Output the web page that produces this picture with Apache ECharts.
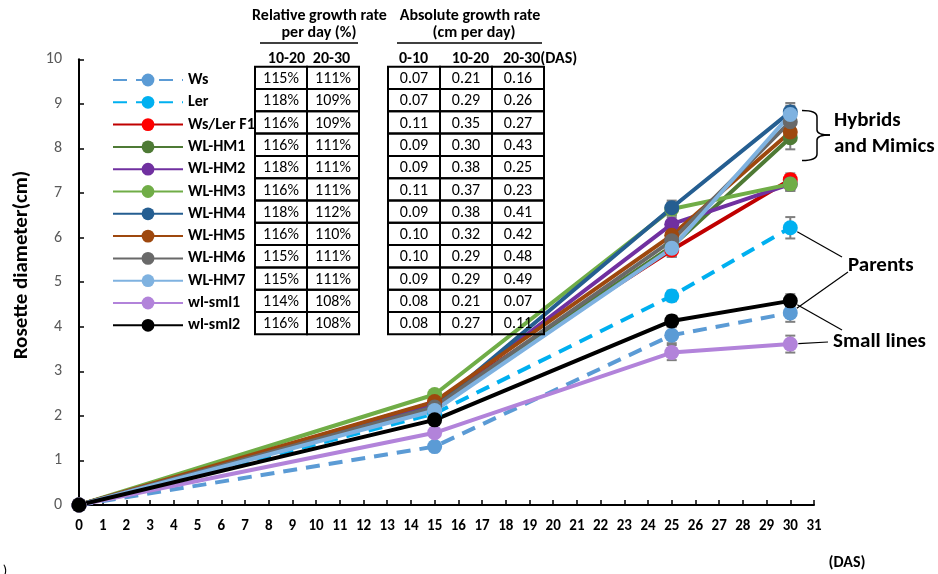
<!DOCTYPE html>
<html><head><meta charset="utf-8">
<script src="https://cdn.jsdelivr.net/npm/echarts@6/dist/echarts.min.js"></script>
<style>html,body{margin:0;padding:0;background:#fff}#c{width:938px;height:574px}</style>
</head><body><div id="c"></div>
<script>
// ---- data ----
const days = [0, 15, 25, 30];
const seriesNames = ['Ws','Ler','Ws/Ler F1','WL-HM1','WL-HM2','WL-HM3','WL-HM4','WL-HM5','WL-HM6','WL-HM7','wl-sml1','wl-sml2'];
const ws   = [0, 1.31, 3.81, 4.31];
const ler  = [0, 2.05, 4.69, 6.22];
const f1   = [0, 2.30, 5.72, 7.30];
const hm1  = [0, 2.20, 5.80, 8.24];
const hm2  = [0, 2.25, 6.30, 7.20];
const hm3  = [0, 2.48, 6.64, 7.20];
const hm4  = [0, 2.20, 6.67, 8.82];
const hm5  = [0, 2.32, 6.05, 8.37];
const hm6  = [0, 2.20, 5.93, 8.60];
const hm7  = [0, 2.12, 5.76, 8.76];
const sml1 = [0, 1.62, 3.42, 3.61];
const sml2 = [0, 1.91, 4.13, 4.58];
// error (+/-) at each day
const errWs   = [0, 0, 0.18, 0.20];
const errLer  = [0, 0, 0.12, 0.24];
const errF1   = [0, 0, 0.15, 0.14];
const errHm1  = [0, 0, 0.15, 0.26];
const errHm2  = [0, 0, 0.15, 0.15];
const errHm3  = [0, 0, 0.15, 0.15];
const errHm4  = [0, 0, 0.16, 0.20];
const errHm5  = [0, 0, 0.15, 0.15];
const errHm6  = [0, 0, 0.15, 0.15];
const errHm7  = [0, 0, 0.19, 0.20];
const errSml1 = [0, 0, 0.17, 0.19];
const errSml2 = [0, 0, 0.12, 0.15];
// table values
const rgrHead = ['10-20', '20-30'];
const rgr1020 = ['115%','118%','116%','116%','118%','116%','118%','116%','115%','115%','114%','116%'];
const rgr2030 = ['111%','109%','109%','111%','111%','111%','112%','110%','111%','111%','108%','108%'];
const agrHead = ['0-10', '10-20', '20-30(DAS)'];
const agr010  = ['0.07','0.07','0.11','0.09','0.09','0.11','0.09','0.10','0.10','0.09','0.08','0.08'];
const agr1020 = ['0.21','0.29','0.35','0.30','0.38','0.37','0.38','0.32','0.29','0.29','0.21','0.27'];
const agr2030 = ['0.16','0.26','0.27','0.43','0.25','0.23','0.41','0.42','0.48','0.49','0.07','0.11'];
const xTicksMax = 31;
const yTicksMax = 10;

// ---- styles ----
const values = [ws, ler, f1, hm1, hm2, hm3, hm4, hm5, hm6, hm7, sml1, sml2];
const errs = [errWs, errLer, errF1, errHm1, errHm2, errHm3, errHm4, errHm5, errHm6, errHm7, errSml1, errSml2];
const lineColors = ['#5B9BD5','#00B0F0','#C00000','#4E7A35','#7030A0','#70AD47','#255E91','#9E480E','#696969','#7FB2E0','#B283DA','#000000'];
const markColors = ['#5B9BD5','#00B0F0','#FF0000','#4E7A35','#7030A0','#70AD47','#255E91','#9E480E','#696969','#7FB2E0','#B283DA','#000000'];
const dashed = [true, true, false, false, false, false, false, false, false, false, false, false];
const FONT = 'Carlito, Lato, sans-serif';

const chart = echarts.init(document.getElementById('c'), null, {renderer: 'canvas'});

const lineSeries = seriesNames.map((n, i) => ({
  name: n, type: 'line', z: 3,
  data: days.map((d, j) => [d, values[i][j]]),
  symbol: 'circle', symbolSize: 15,
  lineStyle: {color: lineColors[i], width: 4, type: dashed[i] ? [14, 9] : 'solid', cap: 'butt'},
  itemStyle: {color: markColors[i]},
  emphasis: {disabled: true}, animation: false
}));

const errData = [];
seriesNames.forEach((n, i) => days.forEach((d, j) => {
  if (errs[i][j] > 0) errData.push([d, values[i][j] - errs[i][j], values[i][j] + errs[i][j]]);
}));

const errSeries = {
  type: 'custom', z: 2, animation: false, silent: true,
  data: errData,
  renderItem: function (params, api) {
    const x = api.value(0);
    const p1 = api.coord([x, api.value(1)]);
    const p2 = api.coord([x, api.value(2)]);
    const w = 5, st = {stroke: '#7F7F7F', lineWidth: 2};
    return {type: 'group', children: [
      {type: 'line', shape: {x1: p1[0], y1: p1[1], x2: p2[0], y2: p2[1]}, style: st},
      {type: 'line', shape: {x1: p1[0]-w, y1: p1[1], x2: p1[0]+w, y2: p1[1]}, style: st},
      {type: 'line', shape: {x1: p2[0]-w, y1: p2[1], x2: p2[0]+w, y2: p2[1]}, style: st}
    ]};
  }
};

// ---- tables (graphic) ----
const graphics = [];
const rowTop = 66.7, rowH = 22.3;
function addTable(x0, colW, cols) {
  cols.forEach((col, c) => {
    col.forEach((v, r) => {
      graphics.push({type: 'rect', silent: true, z: 10,
        shape: {x: x0 + c * colW, y: rowTop + r * rowH, width: colW, height: rowH},
        style: {fill: null, stroke: '#000', lineWidth: 2}});
      graphics.push({type: 'text', silent: true, z: 11,
        x: x0 + c * colW + colW / 2, y: rowTop + r * rowH + rowH / 2 + 1.2,
        style: {text: v, font: '16px ' + FONT, fill: '#000', align: 'center', verticalAlign: 'middle'}});
    });
  });
}
addTable(255, 52, [rgr1020, rgr2030]);
addTable(388, 52, [agr010, agr1020, agr2030]);

function txt(t, x, y, size, bold, align, rot) {
  graphics.push({type: 'text', silent: true, z: 11, x: x, y: y, rotation: rot || 0,
    style: {text: t, font: (bold ? 'bold ' : '') + size + 'px ' + FONT, fill: '#000',
      align: align || 'center', verticalAlign: 'middle'}});
}
txt('Relative growth rate', 319.5, 16, 16, true);
txt('per day (%)', 319, 33, 16, true);
txt(rgrHead[0], 286.5, 58.5, 16, true);
txt(rgrHead[1], 331.5, 58.5, 16, true);
txt('Absolute growth rate', 470, 16, 16, true);
txt('(cm per day)', 474, 33, 16, true);
txt(agrHead[0], 413.5, 58.5, 16, true);
txt(agrHead[1], 470.5, 58.5, 16, true);
txt(agrHead[2], 503, 58.5, 16, true, 'left');
graphics.push({type: 'line', silent: true, shape: {x1: 260, y1: 43, x2: 358, y2: 43}, style: {stroke: '#000', lineWidth: 1.5}});
graphics.push({type: 'line', silent: true, shape: {x1: 397, y1: 43, x2: 542, y2: 43}, style: {stroke: '#000', lineWidth: 1.5}});

// axis title and annotations
txt('Rosette diameter(cm)', 22, 265, 21, true, 'center', Math.PI / 2);
txt('Hybrids', 834, 120.5, 21, true, 'left');
txt('and Mimics', 834, 146.5, 21, true, 'left');
txt('Parents', 848, 265.5, 21, true, 'left');
txt('Small lines', 833, 341.5, 21, true, 'left');
txt('(DAS)', 847, 563, 16, true);
txt(')', 5, 571, 15, false);
// bracket
const bst = {fill: null, stroke: '#000', lineWidth: 1.5};
graphics.push({type: 'bezierCurve', silent: true, shape: {x1: 802, y1: 110.5, x2: 817, y2: 117, cpx1: 817, cpy1: 110.5}, style: bst});
graphics.push({type: 'line', silent: true, shape: {x1: 817, y1: 117, x2: 817, y2: 130}, style: bst});
graphics.push({type: 'bezierCurve', silent: true, shape: {x1: 817, y1: 130, x2: 830, y2: 135, cpx1: 817, cpy1: 135}, style: bst});
graphics.push({type: 'bezierCurve', silent: true, shape: {x1: 830, y1: 135, x2: 817, y2: 140, cpx1: 817, cpy1: 135}, style: bst});
graphics.push({type: 'line', silent: true, shape: {x1: 817, y1: 140, x2: 817, y2: 154}, style: bst});
graphics.push({type: 'bezierCurve', silent: true, shape: {x1: 817, y1: 154, x2: 802, y2: 160.5, cpx1: 817, cpy1: 160.5}, style: bst});

const option = {
  backgroundColor: '#fff',
  animation: false,
  textStyle: {fontFamily: FONT},
  grid: {left: 79, right: 124, top: 59.3, bottom: 69, containLabel: false},
  legend: {
    data: seriesNames, orient: 'vertical', left: 107, top: 67,
    itemWidth: 70, itemHeight: 16, itemGap: 6.3,
    textStyle: {fontFamily: FONT, fontWeight: 'bold', fontSize: 16, color: '#000', lineHeight: 16},
    selectedMode: false
  },
  xAxis: {
    type: 'value', min: 0, max: xTicksMax, interval: 1,
    axisLine: {show: true, lineStyle: {color: '#000', width: 2}},
    axisTick: {show: true, inside: true, length: 5, lineStyle: {color: '#000', width: 1.5}},
    axisLabel: {color: '#000', fontWeight: 'bold', fontSize: 15, fontFamily: FONT, margin: 14},
    splitLine: {show: false}
  },
  yAxis: {
    type: 'value', min: 0, max: yTicksMax, interval: 1,
    axisLine: {show: true, lineStyle: {color: '#000', width: 2}},
    axisTick: {show: true, inside: true, length: 5, lineStyle: {color: '#000', width: 1.5}},
    axisLabel: {color: '#595959', fontSize: 16, fontFamily: FONT, margin: 17},
    splitLine: {show: false}
  },
  series: [errSeries].concat(lineSeries),
  graphic: graphics
};
chart.setOption(option);

// leader lines from annotation labels to the 30-DAS points
function leader(vals, endX, endY) {
  const p = chart.convertToPixel({gridIndex: 0}, [days[3], vals[3]]);
  const dx = endX - p[0], dy = endY - p[1], L = Math.sqrt(dx*dx + dy*dy);
  return {type: 'line', silent: true, z: 12,
    shape: {x1: p[0] + dx / L * 8, y1: p[1] + dy / L * 8, x2: endX, y2: endY},
    style: {stroke: '#000', lineWidth: 1.2}};
}
chart.setOption({graphic: graphics.concat([
  leader(ler, 842, 257),
  leader(ws, 848, 272),
  leader(sml2, 842, 330),
  leader(sml1, 828, 342)
])});
</script>
</body></html>
